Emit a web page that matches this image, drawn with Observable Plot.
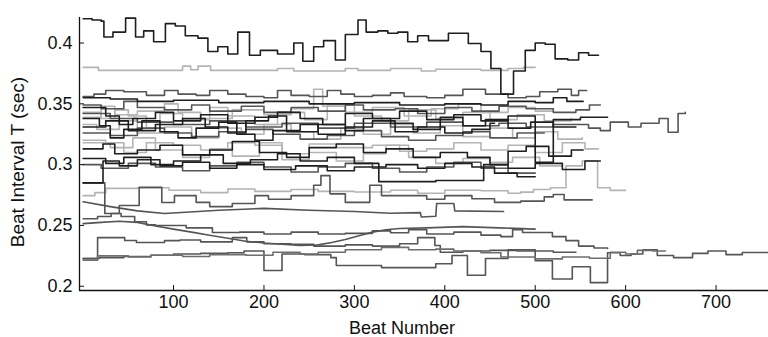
<!DOCTYPE html>
<html><head><meta charset="utf-8">
<script src="https://cdn.jsdelivr.net/npm/d3@7"></script>
<script src="https://cdn.jsdelivr.net/npm/@observablehq/plot@0.6"></script>
<style>
html,body{margin:0;padding:0;background:#fff;}
</style></head><body><div id="chart"></div>
<script>
// ---- data: [beat, interval (sec)] step points ----
const s01 = [[0,0.420],[10,0.419],[20,0.418],[23,0.405],[33,0.409],[47,0.4205],[58,0.405],[67,0.410],[78,0.401],[91,0.416],[102,0.414],[113,0.406],[127,0.404],[138,0.393],[149,0.397],[160,0.391],[171,0.409],[184,0.390],[196,0.394],[215,0.391],[233,0.400],[243,0.385],[255,0.397],[266,0.402],[279,0.386],[290,0.407],[304,0.419],[313,0.409],[326,0.410],[337,0.408],[348,0.409],[359,0.401],[370,0.406],[382,0.402],[404,0.408],[426,0.3996],[440,0.393],[451,0.379],[462,0.358],[476,0.377],[489,0.394],[500,0.400],[511,0.399],[522,0.387],[536,0.386],[548,0.392],[559,0.390],[570,0.390]];
const s02 = [[0,0.380],[17,0.3775],[110,0.381],[119,0.378],[127,0.381],[141,0.3775],[215,0.379],[233,0.377],[290,0.379],[304,0.3775],[340,0.379],[374,0.377],[390,0.3785],[440,0.3775],[470,0.379],[487,0.380],[500,0.380]];
const c01 = [[0,0.356],[12,0.358],[25,0.361],[45,0.360],[70,0.357],[90,0.361],[105,0.358],[125,0.357],[140,0.361],[160,0.358],[180,0.356],[200,0.355],[215,0.361],[230,0.357],[250,0.356],[270,0.361],[285,0.358],[300,0.356],[320,0.357],[340,0.359],[355,0.356],[380,0.355],[400,0.357],[420,0.362],[445,0.358],[470,0.355],[490,0.356],[505,0.360],[525,0.362],[540,0.357],[548,0.361],[557,0.361]];
const c02 = [[0,0.355],[30,0.354],[60,0.352],[100,0.353],[150,0.351],[200,0.352],[250,0.350],[300,0.351],[350,0.349],[400,0.350],[440,0.349],[470,0.352],[500,0.351],[520,0.355],[535,0.352],[553,0.352]];
const c03 = [[0,0.349],[20,0.346],[45,0.352],[60,0.347],[90,0.345],[120,0.349],[140,0.344],[175,0.348],[200,0.343],[230,0.347],[260,0.344],[290,0.349],[310,0.345],[345,0.346],[370,0.342],[400,0.347],[430,0.344],[460,0.348],[490,0.346],[520,0.343],[545,0.345],[560,0.349],[572,0.349]];
const c04 = [[0,0.347],[25,0.340],[40,0.333],[55,0.338],[80,0.343],[100,0.336],[130,0.341],[160,0.334],[190,0.339],[215,0.343],[240,0.338],[265,0.333],[290,0.342],[320,0.338],[350,0.344],[380,0.337],[410,0.341],[440,0.336],[470,0.340],[500,0.302],[520,0.337],[550,0.339],[580,0.339]];
const c05 = [[0,0.342],[30,0.338],[60,0.335],[100,0.333],[140,0.336],[180,0.331],[220,0.334],[260,0.330],[300,0.334],[340,0.331],[380,0.335],[420,0.332],[460,0.334],[490,0.331],[520,0.333],[559,0.330],[572,0.328],[583,0.335],[603,0.331],[617,0.334],[637,0.338],[647,0.3266],[658,0.342],[666,0.343]];
const c06 = [[0,0.343],[20,0.338],[35,0.345],[50,0.340],[70,0.330],[85,0.342],[110,0.337],[140,0.347],[160,0.340],[190,0.333],[215,0.343],[245,0.337],[270,0.349],[300,0.340],[330,0.336],[360,0.345],[390,0.338],[420,0.343],[450,0.337],[480,0.341],[510,0.336],[540,0.338]];
const c07 = [[0,0.333],[15,0.329],[40,0.336],[60,0.326],[90,0.331],[120,0.322],[150,0.330],[175,0.325],[200,0.333],[230,0.327],[255,0.321],[285,0.330],[310,0.325],[340,0.333],[365,0.326],[395,0.332],[420,0.323],[450,0.330],[475,0.322],[500,0.327],[525,0.321],[552,0.322]];
const c08 = [[0,0.320],[25,0.318],[45,0.310],[70,0.318],[100,0.316],[130,0.312],[160,0.318],[190,0.316],[220,0.309],[250,0.317],[280,0.314],[320,0.316],[350,0.311],[380,0.313],[410,0.318],[440,0.312],[470,0.316],[500,0.310],[530,0.318],[555,0.313],[570,0.313]];
const c09 = [[0,0.338],[18,0.332],[30,0.322],[45,0.329],[65,0.336],[85,0.327],[105,0.322],[125,0.330],[150,0.335],[170,0.325],[190,0.320],[210,0.328],[240,0.333],[260,0.325],[290,0.331],[320,0.336],[345,0.327],[370,0.331],[400,0.326],[430,0.329],[450,0.334],[455,0.334]];
const c10 = [[0,0.326],[30,0.324],[60,0.330],[90,0.326],[120,0.323],[150,0.327],[180,0.329],[210,0.325],[240,0.321],[270,0.324],[300,0.328],[330,0.323],[360,0.320],[390,0.324],[420,0.327],[450,0.322],[480,0.326],[510,0.326]];
const c11 = [[0,0.313],[22,0.317],[35,0.309],[60,0.312],[85,0.316],[110,0.308],[140,0.312],[165,0.319],[195,0.310],[225,0.306],[250,0.314],[280,0.317],[310,0.310],[335,0.313],[365,0.306],[395,0.310],[425,0.306],[450,0.300],[470,0.311],[490,0.315],[515,0.307],[540,0.312],[553,0.312]];
const c12 = [[0,0.305],[25,0.301],[45,0.306],[75,0.300],[100,0.303],[130,0.308],[155,0.301],[185,0.304],[215,0.309],[240,0.303],[270,0.306],[300,0.301],[327,0.286],[390,0.287],[443,0.300],[470,0.297],[500,0.301],[530,0.296],[555,0.303],[572,0.303]];
const c13 = [[0,0.300],[20,0.297],[50,0.301],[80,0.298],[110,0.295],[140,0.299],[170,0.302],[200,0.298],[230,0.294],[260,0.298],[290,0.301],[320,0.297],[350,0.294],[380,0.298],[410,0.302],[440,0.297],[470,0.293],[500,0.293]];
const c14 = [[0,0.285],[22,0.303],[40,0.299],[60,0.304],[85,0.299],[110,0.302],[140,0.297],[170,0.300],[200,0.296],[235,0.299],[270,0.295],[300,0.298],[335,0.300],[370,0.297],[400,0.301],[430,0.298],[455,0.293],[480,0.290],[500,0.290]];
const c15 = [[0,0.318],[30,0.314],[55,0.322],[80,0.312],[110,0.306],[140,0.313],[165,0.307],[195,0.318],[220,0.304],[250,0.310],[280,0.303],[310,0.309],[335,0.316],[360,0.306],[390,0.301],[420,0.305],[450,0.302],[475,0.306],[505,0.299],[530,0.299]];
const c16 = [[0,0.339],[20,0.348],[35,0.341],[60,0.344],[90,0.350],[105,0.343],[130,0.338],[165,0.345],[200,0.341],[230,0.346],[255,0.362],[265,0.348],[290,0.343],[320,0.347],[355,0.340],[385,0.346],[415,0.350],[440,0.343],[470,0.347],[500,0.344],[520,0.344]];
const c17 = [[0,0.331],[25,0.336],[50,0.328],[80,0.333],[110,0.338],[135,0.331],[160,0.326],[180,0.336],[205,0.340],[225,0.327],[260,0.333],[290,0.328],[310,0.338],[340,0.334],[365,0.329],[395,0.339],[420,0.332],[445,0.337],[470,0.330],[495,0.335],[520,0.331],[545,0.331]];
const l01 = [[0,0.2745],[13,0.277],[25,0.2805],[60,0.281],[95,0.279],[130,0.277],[160,0.280],[190,0.278],[230,0.2795],[260,0.278],[300,0.2775],[340,0.279],[370,0.2765],[400,0.279],[440,0.2785],[470,0.2765],[484,0.2774],[498,0.2796],[517,0.281],[534,0.299],[552,0.303],[569,0.281],[583,0.2788],[600,0.2788]];
const l02 = [[0,0.285],[24,0.2598],[40,0.2664],[62,0.2813],[87,0.2689],[101,0.2745],[125,0.269],[140,0.2655],[165,0.268],[190,0.2745],[205,0.2715],[230,0.2745],[255,0.283],[263,0.291],[273,0.276],[290,0.269],[317,0.283],[330,0.2745],[380,0.2715],[400,0.2745],[430,0.272],[455,0.269],[484,0.270],[510,0.2735],[520,0.2755],[532,0.271],[563,0.271]];
const l03 = [[0,0.2695],[30,0.2655],[60,0.2620],[90,0.2598],[118,0.2610],[150,0.2625],[200,0.2640],[250,0.2625],[300,0.2615],[340,0.2600],[373,0.2605],[374,0.2570],[390,0.2575],[391,0.2680],[410,0.2680],[411,0.2620],[465,0.2615]];
const l04 = [[0,0.2555],[16,0.2573],[31,0.2598],[42,0.2573],[57,0.2530],[70,0.2505],[80,0.2500],[114,0.2480],[143,0.2442],[173,0.2445],[200,0.2430],[230,0.2445],[260,0.2430],[290,0.2435],[320,0.2455],[340,0.2440],[360,0.2465],[380,0.2430],[410,0.2445],[440,0.2420],[462,0.2408],[475,0.2466],[486,0.2442],[519,0.2408],[534,0.2375],[548,0.2330],[565,0.2315],[580,0.2310]];
const l05 = [[0,0.2515],[20,0.2525],[40,0.2535],[60,0.2525],[80,0.2495],[100,0.2470],[120,0.2445],[140,0.2420],[160,0.2395],[180,0.2370],[200,0.2355],[220,0.2345],[240,0.2335],[260,0.2340],[275,0.2360],[290,0.2385],[305,0.2415],[320,0.2445],[335,0.2465],[350,0.2475],[380,0.2480],[420,0.2490],[460,0.2480],[500,0.2470]];
const l06 = [[0,0.2228],[16,0.2400],[46,0.2376],[59,0.2360],[90,0.2375],[107,0.2380],[130,0.2365],[165,0.2400],[181,0.2365],[200,0.2350],[230,0.2345],[255,0.2330],[290,0.2340],[320,0.2330],[350,0.2350],[370,0.2400],[389,0.2335],[395,0.2280],[420,0.2290],[450,0.2295],[480,0.2290],[520,0.2280],[545,0.2280]];
const l07 = [[0,0.2228],[18,0.2235],[45,0.2245],[75,0.2255],[100,0.2265],[130,0.2270],[160,0.2275],[178,0.2290],[200,0.2130],[220,0.2265],[245,0.2260],[274,0.2235],[280,0.2170],[330,0.2153],[390,0.2185],[408,0.2253],[425,0.2090],[445,0.2228],[470,0.2300],[500,0.2210],[519,0.2060],[541,0.2160],[561,0.2030],[580,0.2275],[594,0.2253],[606,0.2265],[619,0.2300],[635,0.2253],[653,0.2235],[674,0.2270],[691,0.2290],[711,0.2260],[729,0.2277],[758,0.2277]];
const l08 = [[0,0.2215],[16,0.2250],[50,0.2240],[75,0.2255],[110,0.2245],[140,0.2260],[180,0.2255],[210,0.2280],[240,0.2265],[260,0.2280],[290,0.2300],[330,0.2320],[360,0.2300],[390,0.2305],[410,0.2290],[440,0.2275],[462,0.2240],[500,0.2225],[530,0.2240],[560,0.2230],[583,0.2280],[600,0.2265],[613,0.2295],[630,0.2290],[644,0.2290]];

const xTicks = [100, 200, 300, 400, 500, 600, 700];
const yTicks = [0.2, 0.25, 0.3, 0.35, 0.4];
const yTickLabels = ["0.2", "0.25", "0.3", "0.35", "0.4"];
const xLabel = "Beat Number";
const yLabel = "Beat Interval T (sec)";

// ---- styling (shade per series, drawn light first) ----
const LIGHT = "#b4b4b4", DARK = "#555555", MID = "#6e6e6e", BLACK = "#1e1e1e";
const seriesList = [
  ["s02", s02, LIGHT, "step"], ["c06", c06, LIGHT, "step"], ["c07", c07, LIGHT, "step"], ["c08", c08, LIGHT, "step"],
  ["c15", c15, LIGHT, "step"], ["c16", c16, LIGHT, "step"], ["l01", l01, LIGHT, "step"],
  ["c01", c01, DARK, "step"], ["c03", c03, DARK, "step"], ["c05", c05, DARK, "step"], ["c10", c10, DARK, "step"],
  ["c13", c13, DARK, "step"], ["l02", l02, DARK, "step"], ["l03", l03, DARK, "linear"], ["l04", l04, DARK, "step"],
  ["l05", l05, DARK, "linear"], ["l06", l06, DARK, "step"], ["l07", l07, DARK, "step"], ["l08", l08, MID, "step"],
  ["c02", c02, BLACK, "step"], ["c04", c04, BLACK, "step"], ["c09", c09, BLACK, "step"], ["c11", c11, BLACK, "step"],
  ["c12", c12, BLACK, "step"], ["c14", c14, BLACK, "step"], ["c17", c17, BLACK, "step"], ["s01", s01, BLACK, "step"]
];
const rows = [];
seriesList.forEach(([id, pts, color, kind], order) => {
  pts.forEach(([beat, value]) => rows.push({id, beat, value, color, kind, order}));
});

const xDomain = [-4, 758];
const yDomain = [0.1965, 0.421];
const font = "'Liberation Sans', Arial, Helvetica, sans-serif";

const chart = Plot.plot({
  width: 768, height: 337,
  marginLeft: 79, marginRight: 0, marginTop: 17, marginBottom: 47,
  style: {fontFamily: font, fontSize: "18px", color: "#111", background: "#fff"},
  x: {domain: xDomain},
  y: {domain: yDomain},
  marks: [
    Plot.line(rows, {filter: d => d.kind === "step", x: "beat", y: "value", z: "id", stroke: "color", strokeWidth: 1.6, curve: "step-after"}),
    Plot.line(rows, {filter: d => d.kind === "linear", x: "beat", y: "value", z: "id", stroke: "color", strokeWidth: 1.6, curve: "linear"}),
    Plot.ruleX([xDomain[0]], {stroke: "#111", strokeWidth: 1.3}),
    Plot.ruleY([yDomain[0]], {stroke: "#111", strokeWidth: 1.3}),
    Plot.axisX(xTicks, {tickSize: -5, fill: "none", label: null, stroke: "#111"}),
    Plot.axisX(xTicks, {tickSize: 0, tickPadding: 5, label: null, fontSize: 18, fill: "#111"}),
    Plot.axisY(yTicks, {anchor: "left", tickSize: -5, fill: "none", label: null, stroke: "#111"}),
    Plot.axisY(yTicks, {anchor: "left", tickSize: 0, tickPadding: 7, label: null, fontSize: 18, fill: "#111",
      tickFormat: d => yTickLabels[yTicks.indexOf(d)]}),
    Plot.text([xLabel], {frameAnchor: "bottom", dx: -22, dy: 38, fontSize: 18, fill: "#111", textAnchor: "middle", lineAnchor: "middle"}),
    Plot.text([yLabel], {frameAnchor: "left", dx: -62, dy: 8, rotate: -90, fontSize: 19, fill: "#111", textAnchor: "middle", lineAnchor: "middle"})
  ]
});
document.getElementById("chart").appendChild(chart);
</script>
</body></html>
